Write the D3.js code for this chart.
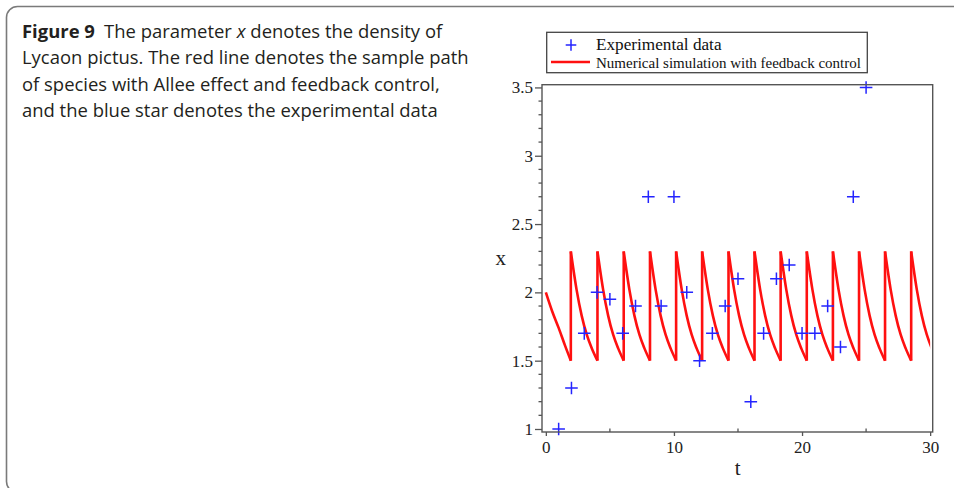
<!DOCTYPE html>
<html lang="en">
<head>
<meta charset="utf-8">
<title>Figure 9</title>
<script src="https://d3js.org/d3.v7.min.js"></script>
<style>
  body { margin: 0; background: #fff; }
  svg { display: block; }
</style>
</head>
<body>
<script type="text/javascript">

/////////////////// Data //////////////
// experimental data (blue +)
var expT = [1, 2, 3, 4, 5, 6, 7, 8, 9, 10, 11, 12, 13, 14, 15, 16, 17, 18, 19, 20, 21, 22, 23, 24, 25];
var expX = [1.0, 1.3, 1.7, 2.0, 1.95, 1.7, 1.9, 2.7, 1.9, 2.7, 2.0, 1.5, 1.7, 1.9, 2.1, 1.2, 1.7, 2.1, 2.2, 1.7, 1.7, 1.9, 1.6, 2.7, 3.5];

var firstT = [0, 0.5, 1.0, 1.5, 1.95];
var firstX = [2.0, 1.86, 1.74, 1.61, 1.5];
var jumpT = [1.95, 4.03, 6.08, 8.13, 10.17, 12.2, 14.26, 16.29, 18.33, 20.37, 22.41, 24.45, 26.48, 28.52];
var cycleOffset = [0, 0.18, 0.44, 0.83, 1.22, 1.61, 2.04];
var cycleX = [2.3, 2.18, 2.02, 1.83, 1.69, 1.59, 1.5];
var jumpLow = 1.5, jumpHigh = 2.3;

var xMajor = [0, 10, 20, 30];
var xMinor = [5, 15, 25];
var yMajor = [1, 1.5, 2, 2.5, 3, 3.5];
var yLabels = ["1", "1.5", "2", "2.5", "3", "3.5"];

var captionLines = [
  [{t: "Figure 9", w: "bold"}, {t: "\u2002The parameter "}, {t: "x", s: "italic"}, {t: " denotes the density of"}],
  [{t: "Lycaon pictus. The red line denotes the sample path"}],
  [{t: "of species with Allee effect and feedback control,"}],
  [{t: "and the blue star denotes the experimental data"}]
];

/////////////////// Var //////////////
var width = 954;
var height = 488;
var blue = "#2424ff";
var red = "#ff1010";
var axisCol = "#555";
var serif = "'Liberation Serif', 'Times New Roman', serif";

var svg = d3.select("body")
  .append("svg")
  .attr("width", width)
  .attr("height", height);

// outer figure frame
svg.append("rect")
  .attr("x", 6.5).attr("y", 6.5)
  .attr("width", 980).attr("height", 486)
  .attr("rx", 11).attr("ry", 11)
  .style("fill", "none")
  .style("stroke", "#7a7a7a")
  .style("stroke-width", 1.6);

//////////////////////// Caption ///////////////////////////////
var caption = svg.append("g").attr("class", "caption");
var capBase = [37.7, 64.2, 90.5, 116.7];
captionLines.forEach(function(line, i) {
  var txt = caption.append("text")
    .attr("x", 22)
    .attr("y", capBase[i])
    .style("font-family", "'Open Sans', 'Noto Sans', sans-serif")
    .style("font-size", "18px")
    .style("fill", "#231f20");
  line.forEach(function(p) {
    txt.append("tspan")
      .style("font-weight", p.w || "normal")
      .style("font-style", p.s || "normal")
      .text(p.t);
  });
});
// fit the caption to the printed width of line 2
var l2 = caption.selectAll("text").nodes()[1].getComputedTextLength();
caption.selectAll("text").style("font-size", (18 * 447 / l2).toFixed(2) + "px");

//////////////////////// Plot ///////////////////////////////
var x = d3.scaleLinear().domain([-0.3, 30.2]).range([542, 932.7]);
var y = d3.scaleLinear().domain([0.978, 3.52]).range([432, 84.7]);

// red simulation path
svg.append("clipPath").attr("id", "plotclip")
  .append("rect")
  .attr("x", x(-0.3)).attr("y", y(3.52))
  .attr("width", x(30) - x(-0.3)).attr("height", y(0.978) - y(3.52));

var sim = svg.append("g").attr("clip-path", "url(#plotclip)");
var line = d3.line()
  .x(function(d) { return x(d[0]); })
  .y(function(d) { return y(d[1]); })
  .curve(d3.curveMonotoneX);

sim.append("path")
  .datum(firstT.map(function(t, i) { return [t, firstX[i]]; }))
  .attr("d", line)
  .style("fill", "none").style("stroke", red).style("stroke-width", 2.6);

jumpT.forEach(function(t0, k) {
  var len = k < jumpT.length - 1 ? jumpT[k + 1] - t0 : cycleOffset[cycleOffset.length - 1];
  var k0 = len / cycleOffset[cycleOffset.length - 1];
  var seg = cycleOffset.map(function(o, i) { return [t0 + o * k0, cycleX[i]]; });
  sim.append("line")
    .attr("x1", x(t0)).attr("x2", x(t0))
    .attr("y1", y(jumpLow)).attr("y2", y(jumpHigh))
    .style("stroke", red).style("stroke-width", 2.6);
  sim.append("path")
    .datum(seg)
    .attr("d", line)
    .style("fill", "none").style("stroke", red).style("stroke-width", 2.6);
});

// blue experimental markers
var ms = 6.3;
var marks = svg.append("g").attr("class", "marks");
expT.forEach(function(t, i) {
  var cx = x(t), cy = y(expX[i]);
  marks.append("path")
    .attr("d", "M" + (cx - ms) + "," + cy + "H" + (cx + ms) + "M" + cx + "," + (cy - ms) + "V" + (cy + ms))
    .style("stroke", blue).style("stroke-width", 1.5).style("fill", "none");
});

// plot frame
svg.append("rect")
  .attr("x", x.range()[0]).attr("y", y.range()[1])
  .attr("width", x.range()[1] - x.range()[0])
  .attr("height", y.range()[0] - y.range()[1])
  .style("fill", "none").style("stroke", axisCol).style("stroke-width", 1.4);

// y axis
var yAxis = svg.append("g")
  .attr("transform", "translate(" + x.range()[0] + ",0)")
  .call(d3.axisLeft(y).tickValues(yMajor).tickSize(7).tickPadding(2)
    .tickFormat(function(d, i) { return yLabels[i]; }));
yAxis.select(".domain").remove();
yAxis.selectAll("line").style("stroke", axisCol).style("stroke-width", 1.3);
yAxis.selectAll("text").style("font-family", serif).style("font-size", "17px").style("fill", "#222");

var yMinor = d3.range(10, 36).map(function(v) { return v / 10; })
  .filter(function(v) { return Math.abs(v * 2 - Math.round(v * 2)) > 0.01; });
svg.append("g").selectAll("line").data(yMinor).enter().append("line")
  .attr("x1", x.range()[0] - 3.5).attr("x2", x.range()[0])
  .attr("y1", function(d) { return y(d); }).attr("y2", function(d) { return y(d); })
  .style("stroke", axisCol).style("stroke-width", 1.3);

// x axis
var xAxis = svg.append("g")
  .attr("transform", "translate(0," + y.range()[0] + ")")
  .call(d3.axisBottom(x).tickValues(xMajor).tickSize(4).tickPadding(5).tickFormat(d3.format("d")));
xAxis.select(".domain").remove();
xAxis.selectAll("line").style("stroke", axisCol).style("stroke-width", 1.3);
xAxis.selectAll("text").style("font-family", serif).style("font-size", "17px").style("fill", "#222");

svg.append("g").selectAll("line").data(xMinor).enter().append("line")
  .attr("x1", function(d) { return x(d); }).attr("x2", function(d) { return x(d); })
  .attr("y1", y.range()[0] - 3.5).attr("y2", y.range()[0])
  .style("stroke", axisCol).style("stroke-width", 1.3);

// axis titles
svg.append("text")
  .attr("x", 500.7).attr("y", 265)
  .attr("text-anchor", "middle")
  .style("font-family", serif).style("font-size", "21px").style("fill", "#222")
  .text("x");
svg.append("text")
  .attr("x", 737.7).attr("y", 475)
  .attr("text-anchor", "middle")
  .style("font-family", serif).style("font-size", "21px").style("fill", "#222")
  .text("t");

//============================== Legend
var legend = svg.append("g").attr("class", "legend");
legend.append("rect")
  .attr("x", 546.7).attr("y", 32.3)
  .attr("width", 320.6).attr("height", 40.4)
  .style("fill", "#fff").style("stroke", "#444").style("stroke-width", 1.3);
legend.append("path")
  .attr("d", "M565.7,45H576.3M571,39.2V50.8")
  .style("stroke", blue).style("stroke-width", 1.5);
legend.append("text")
  .attr("x", 596).attr("y", 49.8)
  .style("font-family", serif).style("font-size", "17.2px").style("fill", "#111")
  .text("Experimental data");
legend.append("line")
  .attr("x1", 551).attr("x2", 590).attr("y1", 62).attr("y2", 62)
  .style("stroke", red).style("stroke-width", 2.6);
legend.append("text")
  .attr("x", 596).attr("y", 67.8)
  .style("font-family", serif).style("font-size", "15px").style("fill", "#111")
  .text("Numerical simulation with feedback control");

</script>
</body>
</html>
